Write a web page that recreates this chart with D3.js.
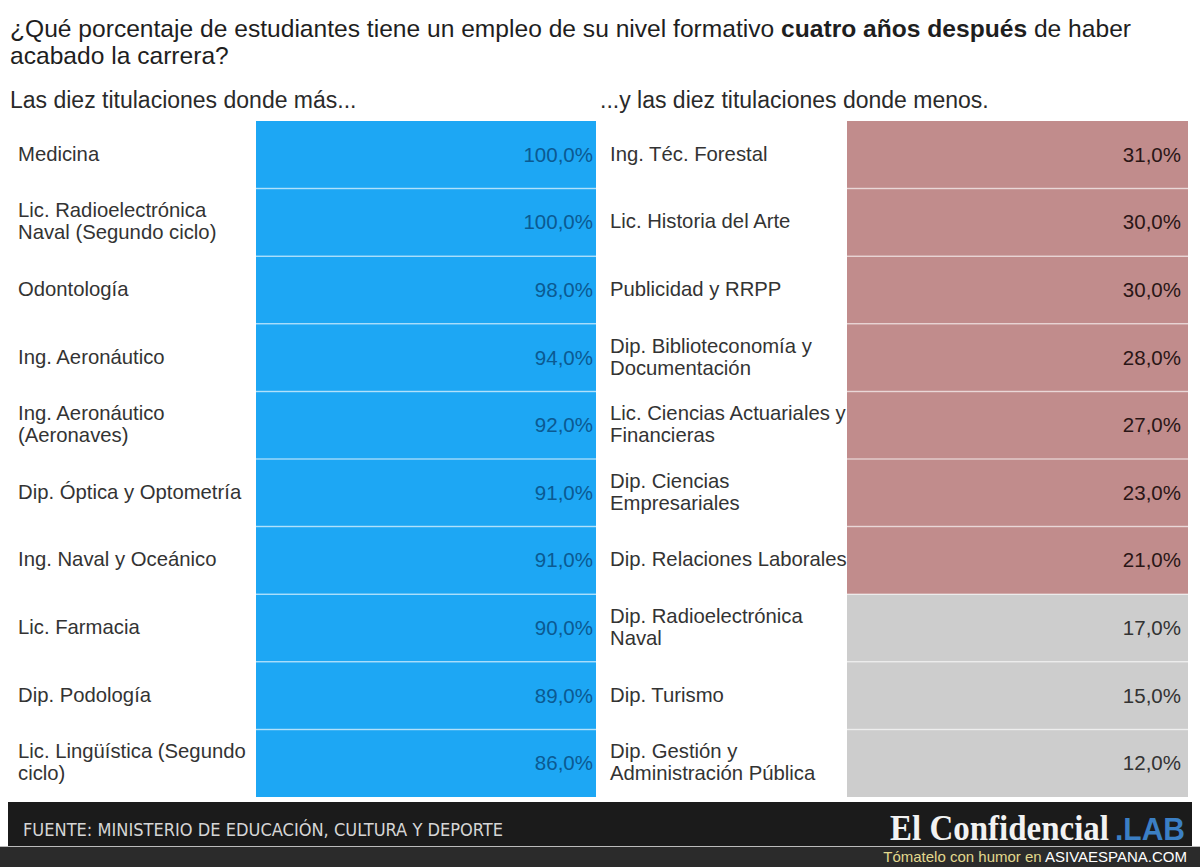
<!DOCTYPE html>
<html><head><meta charset="utf-8">
<script src="https://cdn.jsdelivr.net/npm/d3@7"></script>
<style>body{margin:0;background:#fff}svg{display:block}</style>
</head><body>
<svg id="c" width="1200" height="867"></svg>
<script>
const titleLine1 = ["¿Qué porcentaje de estudiantes tiene un empleo de su nivel formativo ", "cuatro años después", " de haber"];
const titleLine2 = "acabado la carrera?";
const leftHeader = "Las diez titulaciones donde más...";
const rightHeader = "...y las diez titulaciones donde menos.";

const topNames = [
  ["Medicina"],
  ["Lic. Radioelectrónica", "Naval (Segundo ciclo)"],
  ["Odontología"],
  ["Ing. Aeronáutico"],
  ["Ing. Aeronáutico", "(Aeronaves)"],
  ["Dip. Óptica y Optometría"],
  ["Ing. Naval y Oceánico"],
  ["Lic. Farmacia"],
  ["Dip. Podología"],
  ["Lic. Lingüística (Segundo", "ciclo)"]
];
const topValues = [100, 100, 98, 94, 92, 91, 91, 90, 89, 86];

const bottomNames = [
  ["Ing. Téc. Forestal"],
  ["Lic. Historia del Arte"],
  ["Publicidad y RRPP"],
  ["Dip. Biblioteconomía y", "Documentación"],
  ["Lic. Ciencias Actuariales y", "Financieras"],
  ["Dip. Ciencias", "Empresariales"],
  ["Dip. Relaciones Laborales"],
  ["Dip. Radioelectrónica", "Naval"],
  ["Dip. Turismo"],
  ["Dip. Gestión y", "Administración Pública"]
];
const bottomValues = [31, 30, 30, 28, 27, 23, 21, 17, 15, 12];

const source = "FUENTE: MINISTERIO DE EDUCACIÓN, CULTURA Y DEPORTE";
const brand = "El Confidencial";
const brandLab = ".LAB";
const credit1 = "Tómatelo con humor en ";
const credit2 = "ASIVAESPANA.COM";

const svg = d3.select("#c");
const font = "Liberation Sans, Arial, Helvetica, sans-serif";
const fmt = v => d3.format(".1f")(v).replace(".", ",") + "%";

// Title
const t1 = svg.append("text").attr("x", 10).attr("y", 37).attr("font-family", font)
  .attr("font-size", 24.6).attr("fill", "#1e1e1e");
titleLine1.forEach((s, i) => t1.append("tspan").text(s).attr("font-weight", i === 1 ? "bold" : "normal"));
svg.append("text").attr("x", 10).attr("y", 64).attr("font-family", font)
  .attr("font-size", 24.6).attr("fill", "#1e1e1e").text(titleLine2);

svg.append("text").attr("x", 10).attr("y", 108).attr("font-family", font)
  .attr("font-size", 23).attr("fill", "#2a2a2a").text(leftHeader);
svg.append("text").attr("x", 600).attr("y", 108).attr("font-family", font)
  .attr("font-size", 23).attr("fill", "#2a2a2a").text(rightHeader);

const y = d3.scaleBand().domain(d3.range(10)).range([121, 797]).padding(0);

function panel(names, values, labelX, x0, x1, valueRight, colorFn, textColorFn) {
  const g = svg.append("g");
  const rows = g.selectAll("g.row").data(values).join("g").attr("class", "row");
  rows.append("rect").attr("x", x0).attr("width", x1 - x0)
    .attr("y", (d, i) => y(i)).attr("height", y.bandwidth())
    .attr("fill", d => colorFn(d));
  rows.filter((d, i) => i > 0).append("line")
    .attr("x1", x0).attr("x2", x1)
    .attr("y1", (d, i) => y(i + 1)).attr("y2", (d, i) => y(i + 1))
    .attr("stroke", "rgba(255,255,255,0.55)").attr("stroke-width", 1.5);
  rows.append("text").attr("x", valueRight)
    .attr("y", (d, i) => y(i) + y.bandwidth() / 2 + 7)
    .attr("text-anchor", "end").attr("font-family", font).attr("font-size", 20.5)
    .attr("fill", d => textColorFn(d)).text(d => fmt(d));
  rows.each(function(d, i) {
    const lines = names[i];
    const cy = y(i) + y.bandwidth() / 2;
    const lh = 22;
    const startY = cy + 6 - (lines.length - 1) * lh / 2;
    const tx = d3.select(this).append("text").attr("font-family", font)
      .attr("font-size", 20.3).attr("fill", "#333");
    lines.forEach((s, k) => tx.append("tspan").attr("x", labelX).attr("y", startY + k * lh).text(s));
  });
}

panel(topNames, topValues, 18, 256, 596, 593, () => "#1da7f4", () => "#0b5a92");
const rightColor = d3.scaleThreshold().domain([20]).range(["#cdcdcd", "#c18c8c"]);
const rightText = d3.scaleThreshold().domain([20]).range(["#333333", "#2a1616"]);
panel(bottomNames, bottomValues, 610, 847, 1188, 1181, rightColor, rightText);

// Footer
svg.append("rect").attr("x", 0).attr("y", 846).attr("width", 1200).attr("height", 21).attr("fill", "#2b2b2b");
svg.append("rect").attr("x", 8).attr("y", 802).attr("width", 1184).attr("height", 44).attr("fill", "#1b1b1b");
svg.append("line").attr("x1", 0).attr("x2", 1200).attr("y1", 846.5).attr("y2", 846.5).attr("stroke", "#bbb").attr("stroke-width", 1);
svg.append("text").attr("x", 23).attr("y", 836).attr("font-family", "DejaVu Sans Condensed, DejaVu Sans, sans-serif")
  .attr("font-size", 17.5).attr("fill", "#d6d6d6").attr("textLength", 480).attr("lengthAdjust", "spacingAndGlyphs").text(source);
svg.append("text").attr("x", 890).attr("y", 840).attr("font-family", "Liberation Serif, Times New Roman, serif")
  .attr("font-weight", "bold").attr("font-size", 35).attr("fill", "#f2f2f2")
  .attr("textLength", 219).attr("lengthAdjust", "spacingAndGlyphs").text(brand);
svg.append("text").attr("x", 1115).attr("y", 840).attr("font-family", font)
  .attr("font-weight", "bold").attr("font-size", 32).attr("fill", "#3b7fc4")
  .attr("textLength", 70).attr("lengthAdjust", "spacingAndGlyphs").text(brandLab);
const cr = svg.append("text").attr("x", 1187).attr("y", 862).attr("text-anchor", "end")
  .attr("font-family", font).attr("font-size", 15);
cr.append("tspan").attr("fill", "#e2d98e").text(credit1);
cr.append("tspan").attr("fill", "#ffffff").text(credit2);
</script>
</body></html>
